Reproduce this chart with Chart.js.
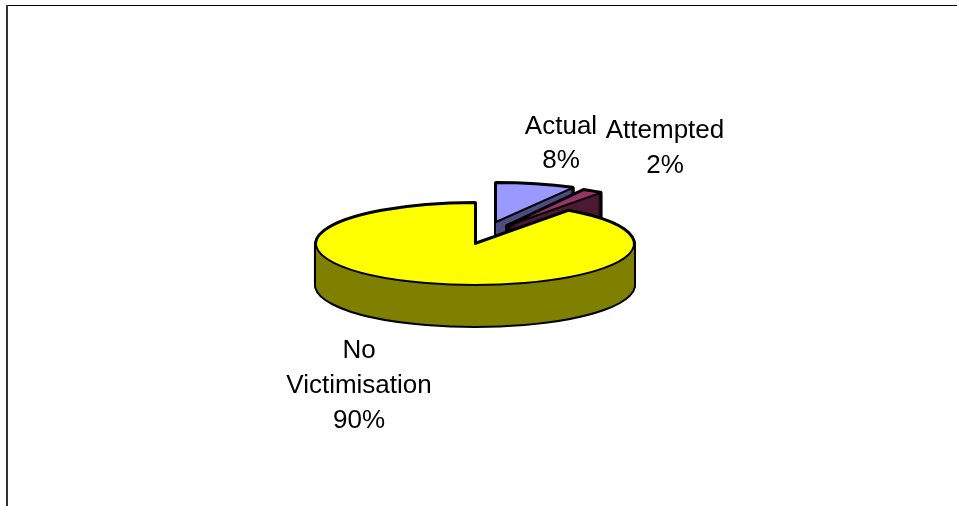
<!DOCTYPE html>
<html>
<head>
<meta charset="utf-8">
<style>html,body{margin:0;padding:0;background:#fff}canvas{display:block}</style>
<script src="https://cdn.jsdelivr.net/npm/chart.js@4/dist/chart.umd.js"></script>
</head>
<body>
<canvas id="c" width="957" height="506"></canvas>
<script>
const categories = ['Actual', 'Attempted', 'No Victimisation'];
const shares = [8, 2, 90];
const topColors = ['#9999FF', '#993366', '#FFFF00'];
const sideColors = ['#4D4D80', '#4D1A33', '#808000'];

// Layout of the tilted pie, in screen pixels
const CX = 475, CY = 244, RX = 159, DEPTH = 41;
const radiiY = [39, 41, 41];
const explode = [[21, -22], [32, -18], [0, 0]];
const FONT = '26px "Liberation Sans", Arial, sans-serif';

function opts(bg, border, width) {
  return {
    backgroundColor: bg, borderColor: border, borderWidth: width,
    borderAlign: 'center', borderDash: [], borderDashOffset: 0,
    borderJoinStyle: 'round', borderRadius: 0, circular: true,
    offset: 0, spacing: 0, angle: undefined
  };
}

function drawArc(ctx, el, ry, dx, dy, o) {
  const saved = el.options;
  el.options = o;
  ctx.save();
  ctx.translate(CX + dx, CY + dy);
  ctx.scale(RX / el.outerRadius, ry / el.outerRadius);
  ctx.translate(-el.x, -el.y);
  // keep the outline width even: stroke in untransformed space
  ctx.stroke = function () {
    const m = ctx.getTransform();
    ctx.setTransform(1, 0, 0, 1, 0, 0);
    CanvasRenderingContext2D.prototype.stroke.call(ctx);
    ctx.setTransform(m);
  };
  el.draw(ctx);
  delete ctx.stroke;
  ctx.restore();
  el.options = saved;
}

const tiltedPie = {
  id: 'tiltedPie',
  beforeDatasetsDraw(chart) {
    const ctx = chart.ctx;
    const arcs = chart.getDatasetMeta(0).data;
    arcs.forEach((el, i) => {
      const [ox, oy] = explode[i];
      const ry = radiiY[i];
      for (let d = DEPTH; d >= 0; d--) {
        drawArc(ctx, el, ry, ox, oy + d, opts('#000', '#000', 4));
      }
      for (let d = DEPTH; d >= 0; d--) {
        drawArc(ctx, el, ry, ox, oy + d, opts(sideColors[i], '#000', 0));
      }
      drawArc(ctx, el, ry, ox, oy, opts(topColors[i], '#000', 2));
    });
    return false;
  },
  afterDraw(chart) {
    const ctx = chart.ctx;
    ctx.save();
    // frame
    ctx.fillStyle = '#000';
    ctx.fillRect(6, 5, 951, 1);
    ctx.fillStyle = '#333';
    ctx.fillRect(6, 5, 2, 501);
    // labels
    ctx.fillStyle = '#000';
    ctx.font = FONT;
    ctx.textAlign = 'center';
    ctx.textBaseline = 'middle';
    const total = shares.reduce((a, b) => a + b, 0);
    const pct = i => Math.round(shares[i] / total * 100) + '%';
    ctx.fillText(categories[0], 561, 127);
    ctx.fillText(pct(0), 561, 161);
    ctx.fillText(categories[1], 665, 131);
    ctx.fillText(pct(1), 665, 166);
    const w = categories[2].split(' ');
    ctx.fillText(w[0], 359, 351);
    ctx.fillText(w[1], 359, 386);
    ctx.fillText(pct(2), 359, 421);
    ctx.restore();
  }
};

new Chart(document.getElementById('c'), {
  type: 'pie',
  data: {
    labels: categories,
    datasets: [{ data: shares, backgroundColor: topColors, borderColor: '#000', borderWidth: 2 }]
  },
  options: {
    responsive: false,
    animation: false,
    rotation: 0,
    plugins: { legend: { display: false }, tooltip: { enabled: false } }
  },
  plugins: [tiltedPie]
});
</script>
</body>
</html>
